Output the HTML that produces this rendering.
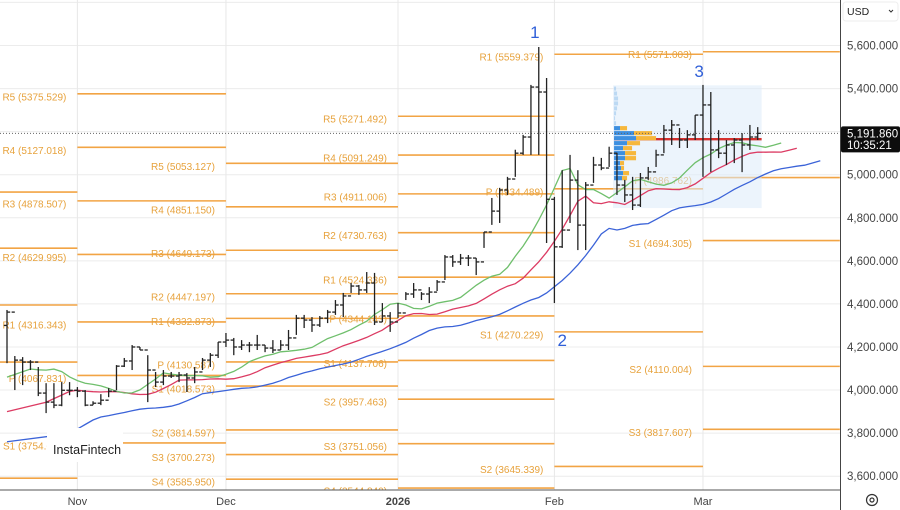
<!DOCTYPE html>
<html><head><meta charset="utf-8">
<style>
html,body{margin:0;padding:0;background:#fff;}
body{width:900px;height:510px;overflow:hidden;font-family:"Liberation Sans",sans-serif;}
svg{display:block;}
</style></head>
<body>
<svg id="chart" width="900" height="510" xmlns="http://www.w3.org/2000/svg">
  <g id="grid"></g>
  <g id="plot" clip-path="url(#clipPlot)"></g>
  <defs><clipPath id="clipPlot"><rect x="0" y="0" width="840" height="490"/></clipPath></defs>
  <g id="axes"></g>
</svg>
<script>
// ---- data ----
const highs=[4372,4158,4153,4139,4107,4032,4032,4037,4037,4014,4000,3948,3981,4009,4116,4149,4209,4200,4162,4084,4093,4084,4084,4079,4107,4149,4172,4223,4265,4242,4232,4223,4256,4209,4232,4232,4279,4349,4349,4339,4344,4372,4418,4451,4497,4488,4548,4544,4404,4362,4404,4455,4497,4455,4478,4511,4627,4627,4632,4627,4613,4734,4892,4939,4990,5116,5185,5417,5593,5449,4897,5021,5092,5021,4966,5083,5078,5130,5102,4976,4990,5008,5036,5116,5231,5254,5217,5207,5277,5417,5384,5207,5161,5170,5193,5231,5221];
const lows=[4125,4000,4023,4093,3972,3893,3916,3925,3976,3967,3925,3930,3930,3967,4000,4107,4093,4186,3944,4014,4023,4056,4037,3991,4032,4093,4107,4149,4200,4162,4186,4176,4186,4176,4172,4186,4186,4256,4288,4270,4293,4311,4349,4339,4451,4442,4451,4302,4316,4270,4334,4418,4428,4418,4404,4460,4511,4572,4581,4576,4534,4660,4767,4776,4906,4990,5092,5092,5092,4683,4404,4660,4776,4650,4650,4962,5021,5036,4906,4873,4836,4850,4976,5036,5100,5138,5124,5124,5161,4990,5013,5077,5045,5054,5012,5115,5161];
const closes=[4362,4139,4130,4130,3986,3944,3930,3999,3999,3995,3930,3939,3953,3995,4111,4135,4200,4186,4093,4037,4065,4065,4070,4056,4084,4139,4162,4223,4232,4200,4209,4209,4209,4195,4186,4209,4242,4334,4325,4302,4334,4362,4395,4437,4483,4465,4497,4316,4344,4316,4358,4446,4465,4446,4455,4502,4618,4595,4613,4613,4595,4734,4831,4929,4980,5100,5175,5407,5384,4886,4665,4743,4975,4766,4952,5045,5031,5100,4952,4906,4859,4985,5013,5092,5207,5231,5161,5185,5277,5324,5115,5100,5138,5161,5138,5175,5192];
const firstOpen=4300;
const lastPrice=5191.860;
const lastTime="10:35:21";
const yTicks=[5600,5400,5200,5000,4800,4600,4400,4200,4000,3800,3600];
const gridPrices=[5800,5600,5400,5200,5000,4800,4600,4400,4200,4000,3800,3600];
const monthLabels=["Nov","Dec","2026","Feb","Mar"];
const monthIdx=[9,28,50,70,89];
const segStart=[-1,9,28,50,70,89];
const segEnd=[9,28,50,70,89,106.5];
const pivOct=[4919.6,4659,4395,4130,3591];
const pivNovNames=["R5","R4","R3","R2","R1","P","S1"];
const pivNov=[5375.529,5127.018,4878.507,4629.995,4316.343,4067.831,3754.680];
const pivDecNames=["R5","R4","R3","R2","R1","P","S1","S2","S3","S4"];
const pivDec=[5053.127,4851.150,4649.173,4447.197,4332.873,4130.587,4018.573,3814.597,3700.273,3585.950];
const pivJanNames=["R5","R4","R3","R2","R1","P","S1","S2","S3","S4"];
const pivJan=[5271.492,5091.249,4911.006,4730.763,4524.336,4344.143,4137.706,3957.463,3751.056,3544.840];
const pivFebNames=["R1","P","S1","S2"];
const pivFeb=[5559.379,4934.489,4270.229,3645.339];
const pivMarNames=["R1","P","S1","S2","S3"];
const pivMar=[5571.003,4986.762,4694.305,4110.004,3817.607];
const jawSeed=3760, teethSeed=3900, lipsSeed=4060;
const vpStart=5216, vpStep=23.2;
const vpBlue=[6,20,22,13,9,11,11,6,7,9,8];
const vpOrange=[7,18,20,13,9,11,11,4,3,6,5];
const vpFaintPrices=[5400,5377,5354,5331,5308,5285,5262,5239];
const vpFaint=[2,3,4,4,3,2,1,2];
const vpTop=5415, vpBottom=4845, vpStartIdx=77.5, vpEndIdx=96.5;
const pocPrice=5165;
const waves=[{t:"1",i:67.5,p:5635},{t:"2",i:71,p:4204},{t:"3",i:88.5,p:5454}];

// ---- scales ----
const Y=p=>45.5+(5600-p)*0.21535;
const X=i=>7+i*7.82;
const NS="http://www.w3.org/2000/svg";
function mk(tag,attrs,parent){const e=document.createElementNS(NS,tag);for(const k in attrs)e.setAttribute(k,attrs[k]);parent.appendChild(e);return e;}
const grid=document.getElementById('grid'),plot=document.getElementById('plot'),axes=document.getElementById('axes');
const fmt=v=>{const s=v.toFixed(3).split('.');return s[0].replace(/\B(?=(\d{3})+(?!\d))/g,',')+'.'+s[1];};

gridPrices.forEach(p=>{const l=mk('line',{x1:0,x2:840,y1:Y(p),y2:Y(p),stroke:'#ececec','stroke-width':1},grid);

});
monthIdx.forEach(i=>{const l=mk('line',{x1:X(i),x2:X(i),y1:0,y2:490,stroke:'#e8e8e8','stroke-width':1},grid);

});

const ORANGE='#f2a444', LBL='#e7a23c';
function pivots(seg,vals,names){
  const x1=X(segStart[seg]),x2=X(segEnd[seg]);
  vals.forEach((v,k)=>{
    const l=mk('line',{x1:x1,x2:x2,y1:Y(v),y2:Y(v),stroke:ORANGE,'stroke-width':1.6},plot);
    
    
    if(names){
      const t=mk('text',{x:x1-11,y:Y(v)+6.5,'text-anchor':'end','font-size':'10','fill':LBL},plot);
      t.textContent=names[k]+' ('+v.toFixed(3)+')';
      
      
    }
  });
}
pivots(0,pivOct,null);pivots(1,pivNov,pivNovNames);pivots(2,pivDec,pivDecNames);
pivots(3,pivJan,pivJanNames);pivots(4,pivFeb,pivFebNames);pivots(5,pivMar,pivMarNames);

const vb=mk('rect',{x:X(vpStartIdx),y:Y(vpTop),width:X(vpEndIdx)-X(vpStartIdx),height:Y(vpBottom)-Y(vpTop),fill:'#dcebf9','fill-opacity':0.55},plot);


const vx=X(vpStartIdx)+1;
const poc=mk('line',{x1:vx,x2:X(vpEndIdx),y1:Y(pocPrice),y2:Y(pocPrice),stroke:'#d4312e','stroke-width':2.4},plot);


vpFaintPrices.forEach((p,k)=>{const r=mk('rect',{x:vx,y:Y(p)-2,width:vpFaint[k],height:4,fill:'#9cc6ec','fill-opacity':0.6},plot);

});
vpBlue.forEach((b,k)=>{const p=vpStart-k*vpStep;
const r1=mk('rect',{x:vx,y:Y(p)-2.1,width:b,height:4.2,fill:'#3d8fe0'},plot);


const r2=mk('rect',{x:vx+b,y:Y(p)-2.1,width:vpOrange[k],height:4.2,fill:'#f6b73c'},plot);

});

const cl=mk('line',{x1:0,x2:840,y1:Y(lastPrice),y2:Y(lastPrice),stroke:'#666','stroke-width':1,'stroke-dasharray':'1,2'},plot);



const med=highs.map((h,i)=>(h+lows[i])/2);
function smma(n,seed){const o=[];let s=seed;med.forEach(m=>{s=(s*(n-1)+m)/n;o.push(s);});return o;}
function drawMA(vals,shift,seed,color,name){
  let d='M'+X(0)+','+Y(seed);
  vals.forEach((v,i)=>{d+=' L'+X(i+shift).toFixed(1)+','+Y(v).toFixed(1);});
  const p=mk('path',{d:d,fill:'none',stroke:color,'stroke-width':1.3},plot);
  
  
}
drawMA(smma(13,jawSeed),8,jawSeed,'#3b63d8','alligator-jaw');
drawMA(smma(8,teethSeed),5,teethSeed,'#dc3b63','alligator-teeth');
drawMA(smma(5,lipsSeed),3,lipsSeed,'#6fbf6c','alligator-lips');

closes.forEach((c,i)=>{
  const o=i===0?firstOpen:closes[i-1];const x=X(i);
  const g=mk('g',{stroke:'#222','stroke-width':1.3},plot);
  
  
  mk('line',{x1:x,x2:x,y1:Y(highs[i]),y2:Y(lows[i])},g);
  mk('line',{x1:x-3.2,x2:x,y1:Y(o),y2:Y(o)},g);
  mk('line',{x1:x,x2:x+3.2,y1:Y(c),y2:Y(c)},g);
});

waves.forEach(w=>{const t=mk('text',{x:X(w.i),y:Y(w.p),'text-anchor':'middle','font-size':'17','fill':'#2f5fd8'},plot);
t.textContent=w.t;

});

const wm=mk('rect',{x:47,y:428,width:76,height:34,fill:'#fff'},plot);


const wt=mk('text',{x:53,y:454,'font-size':'12.5','fill':'#222'},plot);
wt.textContent='InstaFintech';



const al=mk('line',{x1:840.5,x2:840.5,y1:0,y2:510,stroke:'#444','stroke-width':1},axes);


const bl=mk('line',{x1:0,x2:840,y1:490,y2:490,stroke:'#555','stroke-width':1},axes);


yTicks.forEach(p=>{const t=mk('text',{x:847,y:Y(p)+4,'font-size':'11.5','fill':'#444'},axes);
t.textContent=fmt(p);

});
monthLabels.forEach((m,k)=>{const t=mk('text',{x:X(monthIdx[k]),y:505,'text-anchor':'middle','font-size':'11','fill':'#444','font-weight':m==='2026'?'bold':'normal'},axes);
t.textContent=m;

});
const pt=mk('rect',{x:841,y:Y(lastPrice)-7,width:59,height:26,fill:'#0d0d0d',rx:2},axes);


const p1=mk('text',{x:847,y:Y(lastPrice)+4,'font-size':'11.5','fill':'#fff'},axes);
p1.textContent=fmt(lastPrice);


const p2=mk('text',{x:847,y:Y(lastPrice)+15.5,'font-size':'11.5','fill':'#fff'},axes);
p2.textContent=lastTime;


const cd=mk('rect',{x:843,y:2,width:55,height:19,fill:'#fff',stroke:'#eee',rx:3},axes);


const ct=mk('text',{x:847,y:15,'font-size':'10.5','fill':'#222'},axes);
ct.textContent='USD';


const cv=mk('path',{d:'M889,10 l2,2 l2,-2',fill:'none',stroke:'#333','stroke-width':1},axes);


const sg=mk('g',{fill:'none',stroke:'#333','stroke-width':1.2},axes);


mk('circle',{cx:872,cy:500,r:5.5},sg);
mk('circle',{cx:872,cy:500,r:2},sg);
</script>
</body></html>
